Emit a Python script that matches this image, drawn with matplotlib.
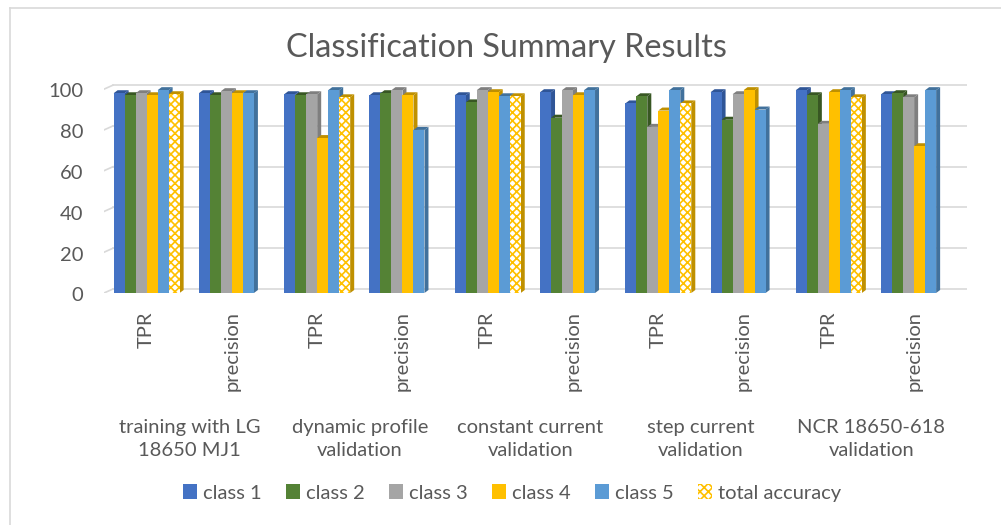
import numpy as np
import matplotlib.pyplot as plt
from matplotlib.patches import Polygon, Rectangle, Patch
from matplotlib.lines import Line2D

plt.rcParams['font.family'] = ['Lato', 'DejaVu Sans']
plt.rcParams['hatch.linewidth'] = 1.2

# data
groups = ['training with LG\n18650 MJ1', 'dynamic profile\nvalidation',
          'constant current\nvalidation', 'step current\nvalidation',
          'NCR 18650-618\nvalidation']
metrics = ['TPR', 'precision']
series_names = ['class 1', 'class 2', 'class 3', 'class 4', 'class 5', 'total accuracy']
class1 = [98, 98, 97.5, 97, 97, 98.5, 93, 98.5, 99.5, 97.5]
class2 = [97, 97, 97, 98, 93.5, 86, 96.5, 85, 97, 98]
class3 = [98, 99, 97.5, 99.5, 99.5, 99.5, 81.5, 97.5, 83, 96]
class4 = [97, 98, 76, 97, 98.5, 97, 89.5, 99.5, 98.5, 72]
class5 = [99.5, 98, 99.5, 80, 96.5, 99.5, 99.5, 90, 99.5, 99.5]
total = [97.5, np.nan, 96, np.nan, 96.5, np.nan, 93, np.nan, 96, np.nan]

front_colors = ['#4472C4', '#548235', '#A5A5A5', '#FFC000', '#5B9BD5', 'white']
dark_colors = ['#2F5597', '#385723', '#7F7F7F', '#BF9000', '#41719C', '#BF9000']
text_col = '#595959'
grid_col = '#D9D9D9'
fs = 14.5

fig = plt.figure(figsize=(10.01, 5.25), dpi=100)
ax = fig.add_axes([104 / 1001, 1 - 293 / 525, 863 / 1001, 212 / 525])
ax.set_xlim(-0.5, 9.62)
ax.set_ylim(0, 104)
ax.axis('off')

px_x = 863 / 10.12
px_y = 212 / 104
wall_dx, wall_dy = 9 / px_x, 4 / px_y
dep_dx, dep_dy = 4 / px_x, 3 / px_y
w = 11 / px_x

# back wall gridlines
for v in range(0, 101, 20):
    ax.plot([-0.5, -0.5 + wall_dx], [v, v + wall_dy], color=grid_col, lw=1.2, zorder=0)
    ax.plot([-0.5 + wall_dx, 9.62], [v + wall_dy] * 2, color=grid_col, lw=1.2, zorder=0)
    ax.annotate(str(v), (-0.5, v), xycoords='data', xytext=(-15, -2),
                textcoords='offset points', ha='right', va='center',
                fontsize=fs, color=text_col)

# 3d-ish bars
all_series = [class1, class2, class3, class4, class5, total]
z = 1
for i in range(len(class1)):
    for j, s in enumerate(all_series):
        h = s[i]
        if np.isnan(h):
            continue
        left = i - 3 * w + j * w
        side = Polygon([(left + w, 0), (left + w + dep_dx, dep_dy),
                        (left + w + dep_dx, h + dep_dy), (left + w, h)],
                       closed=True, facecolor=dark_colors[j], edgecolor='none', zorder=z)
        top = Polygon([(left, h), (left + dep_dx, h + dep_dy),
                       (left + w + dep_dx, h + dep_dy), (left + w, h)],
                      closed=True, facecolor=dark_colors[j], edgecolor='none', zorder=z)
        if j == 5:
            front = Rectangle((left, 0), w, h, facecolor='white', edgecolor='#FFC000',
                              hatch='xxxx', lw=0, zorder=z + 0.5)
        else:
            front = Rectangle((left, 0), w, h, facecolor=front_colors[j],
                              edgecolor='none', zorder=z + 0.5)
        ax.add_patch(side)
        ax.add_patch(top)
        ax.add_patch(front)
        z += 1

# category labels
for i in range(len(class1)):
    ax.annotate(metrics[i % 2], (i, 0), xycoords=('data', 'data'), xytext=(0, -13),
                textcoords='offset points', rotation=90, ha='center', va='top',
                fontsize=fs, color=text_col)
for g, name in enumerate(groups):
    ax.annotate(name, (2 * g + 0.5, 0), xycoords='data', xytext=(0, -105),
                textcoords='offset points', ha='center', va='center',
                fontsize=fs, color=text_col, linespacing=1.4)

fig.text(506 / 1001, 1 - 48 / 525, 'Classification Summary Results', ha='center',
         va='center', fontsize=23.3, color=text_col)

handles = []
for j, name in enumerate(series_names):
    if j == 5:
        handles.append(Patch(facecolor='white', edgecolor='#FFC000', hatch='xxxx', lw=0, label=name))
    else:
        handles.append(Patch(facecolor=front_colors[j], edgecolor='none', label=name))
fig.legend(handles=handles, loc='center', bbox_to_anchor=(512 / 1001, 1 - 493 / 525),
           ncol=6, frameon=False, fontsize=fs, labelcolor=text_col,
           handlelength=0.7, handleheight=0.7, handletextpad=0.3, columnspacing=1.2)

# chart border (top and left visible)
fig.add_artist(Line2D([10 / 1001, 1], [1 - 8 / 525] * 2, transform=fig.transFigure,
                      color=grid_col, lw=1.2))
fig.add_artist(Line2D([10 / 1001] * 2, [0, 1 - 8 / 525], transform=fig.transFigure,
                      color=grid_col, lw=1.2))

fig.savefig('out.png', dpi=100)
